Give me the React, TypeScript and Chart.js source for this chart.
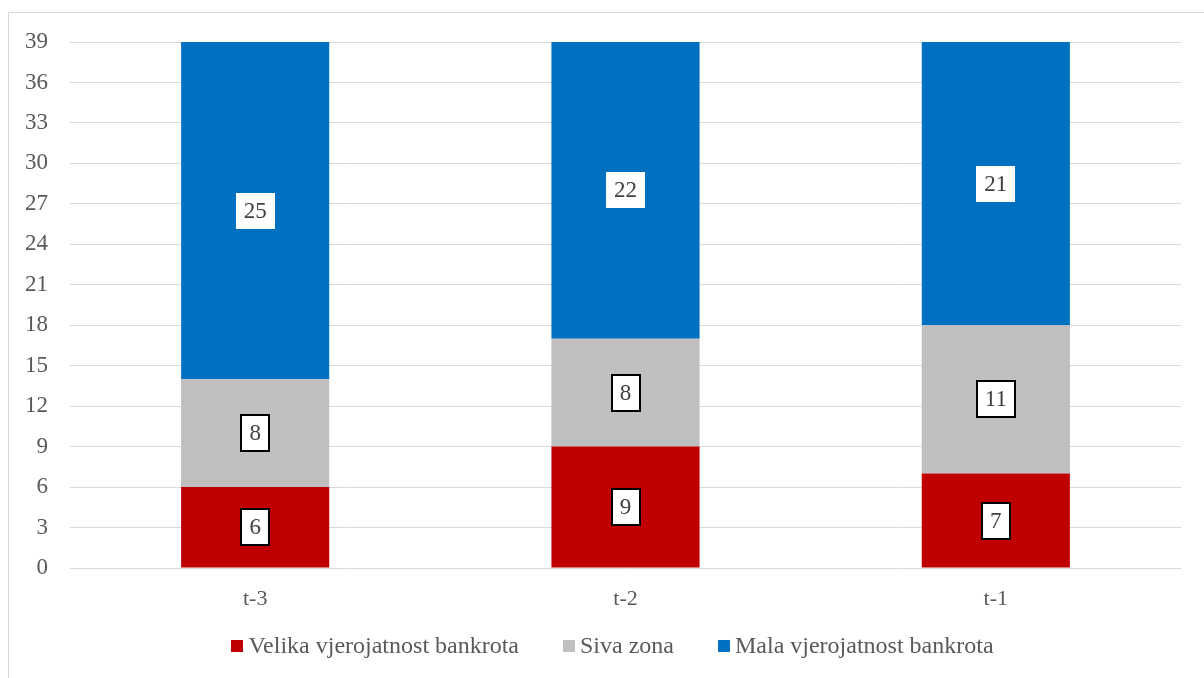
import React, { useEffect, useRef } from "react";
import { Chart, registerables } from "chart.js";

Chart.register(...registerables);

const categories = ["t-3", "t-2", "t-1"];
const velika = [6, 9, 7];
const siva = [8, 8, 11];
const mala = [25, 22, 21];
const seriesNames = ["Velika vjerojatnost bankrota", "Siva zona", "Mala vjerojatnost bankrota"];
const seriesColors = ["#C00000", "#BFBFBF", "#0070C0"];

const FONT = "'Liberation Serif', 'Times New Roman', serif";
const TEXT = "#595959";

const labelPlugin = {
  id: "boxLabels",
  afterDatasetsDraw(chart: any) {
    const ctx = chart.ctx;
    ctx.save();
    ctx.font = `23px ${FONT}`;
    ctx.textAlign = "center";
    ctx.textBaseline = "middle";
    chart.data.datasets.forEach((ds: any, di: number) => {
      const meta = chart.getDatasetMeta(di);
      meta.data.forEach((el: any, i: number) => {
        const v = ds.data[i];
        const txt = String(v);
        const cx = el.x;
        const cy = (el.y + el.base) / 2;
        const tw = ctx.measureText(txt).width;
        const w = tw + 16;
        const h = 36;
        const x0 = Math.round(cx - w / 2);
        const y0 = Math.round(cy - h / 2);
        ctx.fillStyle = "#FFFFFF";
        ctx.fillRect(x0, y0, Math.round(w), h);
        if (di < 2) {
          ctx.strokeStyle = "#000000";
          ctx.lineWidth = 2;
          ctx.strokeRect(x0, y0, Math.round(w), h);
        }
        ctx.fillStyle = "#404040";
        ctx.fillText(txt, cx, cy + 1);
      });
    });
    ctx.restore();
  },
};

const legendPlugin = {
  id: "customLegend",
  afterDraw(chart: any) {
    const ctx = chart.ctx;
    ctx.save();
    ctx.font = `24px ${FONT}`;
    ctx.textBaseline = "middle";
    ctx.textAlign = "left";
    const box = 12;
    const gapBox = 5;
    const gapItem = 44;
    const widths = seriesNames.map((n) => ctx.measureText(n).width);
    let total = 0;
    widths.forEach((w, i) => {
      total += box + gapBox + w + (i < widths.length - 1 ? gapItem : 0);
    });
    let x = chart.width / 2 + 6 - total / 2;
    const cy = 634;
    seriesNames.forEach((n, i) => {
      ctx.fillStyle = seriesColors[i];
      ctx.fillRect(Math.round(x), Math.round(cy - box / 2 - 1), box, box);
      x += box + gapBox;
      ctx.fillStyle = TEXT;
      ctx.fillText(n, x, cy);
      x += widths[i] + gapItem;
    });
    ctx.restore();
  },
};

export default function App() {
  const ref = useRef<HTMLCanvasElement | null>(null);
  useEffect(() => {
    if (!ref.current) return;
    const chart = new Chart(ref.current, {
      type: "bar",
      data: {
        labels: categories,
        datasets: [velika, siva, mala].map((d, i) => ({
          label: seriesNames[i],
          data: d,
          backgroundColor: seriesColors[i],
          borderWidth: 0,
          barPercentage: 1,
          categoryPercentage: 0.4,
        })),
      },
      options: {
        animation: false,
        responsive: false,
        maintainAspectRatio: false,
        layout: { padding: { left: 0, right: 23, top: 29, bottom: 65 } },
        plugins: {
          tooltip: { enabled: false },
          legend: { display: false },
        },
        scales: {
          x: {
            stacked: true,
            grid: { display: false },
            border: { display: false },
            afterFit(scale: any) {
              scale.height = 45;
              scale.paddingLeft = 0;
              scale.paddingRight = 0;
            },
            ticks: { color: TEXT, font: { family: FONT, size: 22 }, padding: 10 },
          },
          y: {
            stacked: true,
            min: 0,
            max: 39,
            afterFit(scale: any) {
              scale.width = 61;
              scale.paddingTop = 0;
              scale.paddingBottom = 0;
            },
            ticks: { stepSize: 3, color: TEXT, font: { family: FONT, size: 23 }, padding: 22 },
            grid: { color: "#D9D9D9", lineWidth: 1, drawTicks: false },
            border: { display: false },
          },
        },
      },
      plugins: [labelPlugin, legendPlugin],
    } as any);
    return () => chart.destroy();
  }, []);
  return (
    <div
      style={{
        position: "absolute",
        left: 8,
        top: 12,
        borderTop: "1px solid #D9D9D9",
        borderLeft: "1px solid #D9D9D9",
      }}
    >
      <canvas ref={ref} width={1195} height={665} style={{ display: "block" }} />
    </div>
  );
}
